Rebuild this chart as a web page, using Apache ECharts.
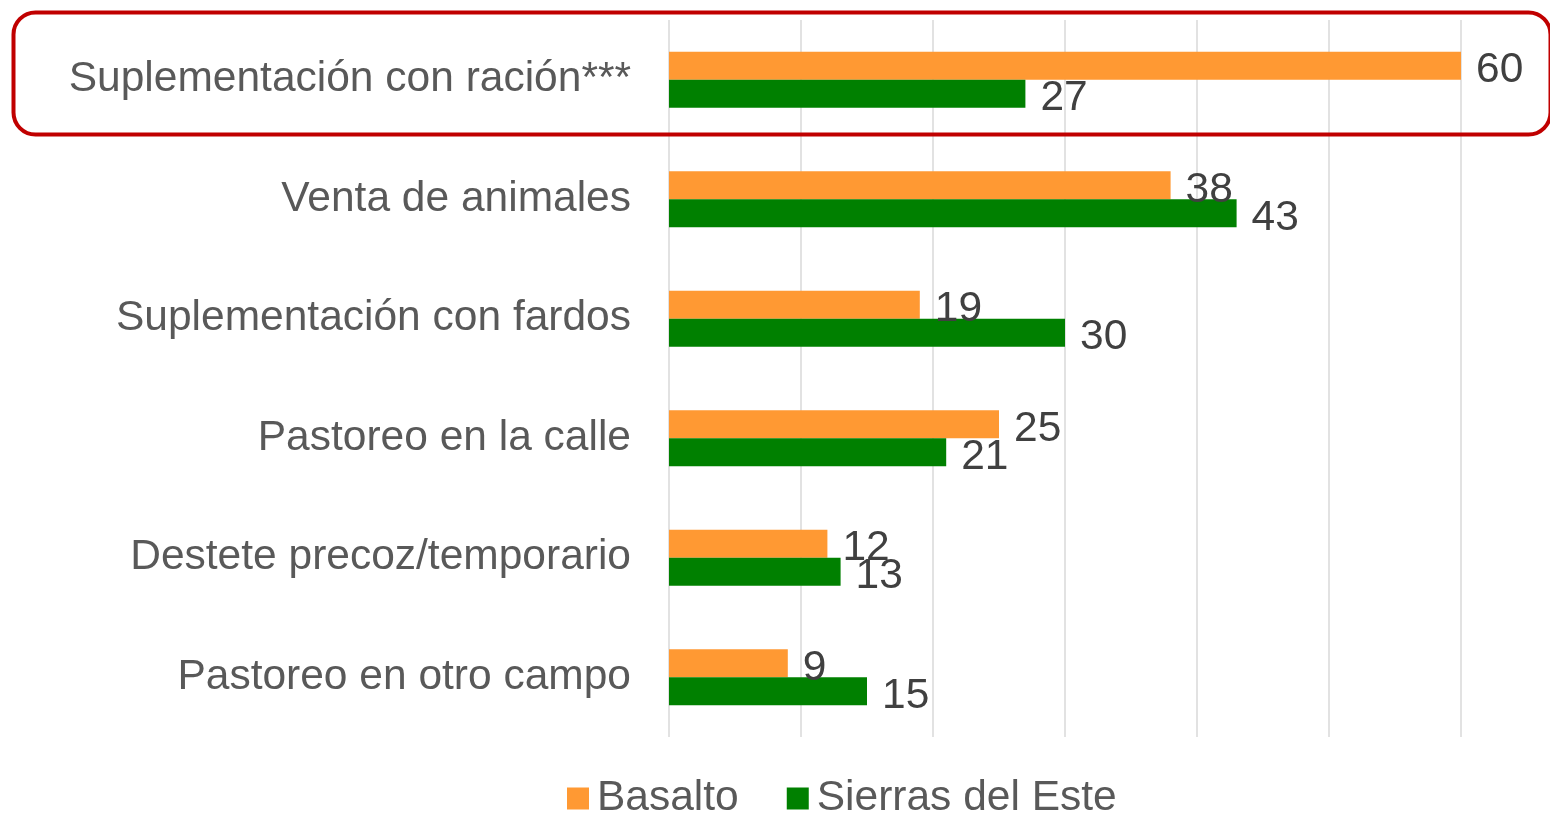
<!DOCTYPE html>
<html>
<head>
<meta charset="utf-8">
<script src="https://cdn.jsdelivr.net/npm/echarts@6/dist/echarts.min.js"></script>
<style>html,body{margin:0;padding:0;background:#fff}#c{width:1550px;height:813px}</style>
</head>
<body>
<div id="c"></div>
<script>
const categories = ["Suplementación con ración***", "Venta de animales", "Suplementación con fardos", "Pastoreo en la calle", "Destete precoz/temporario", "Pastoreo en otro campo"];
const basalto = [60, 38, 19, 25, 12, 9];
const sierras = [27, 43, 30, 21, 13, 15];
const seriesNames = ["Basalto", "Sierras del Este"];

const chart = echarts.init(document.getElementById('c'), null, {renderer: 'canvas'});
const FONT = 'Liberation Sans, Arial, sans-serif';
const labelCfg = {show: true, position: 'right', distance: 15, offset: [0, 5], color: '#404040', fontSize: 42.5, fontFamily: FONT};
chart.setOption({
  animation: false,
  backgroundColor: '#fff',
  grid: {left: 669, right: 89, top: 20, bottom: 76, containLabel: false},
  xAxis: {
    type: 'value', min: 0, max: 60, interval: 10,
    axisLabel: {show: false}, axisLine: {show: false}, axisTick: {show: false},
    splitLine: {show: true, lineStyle: {color: '#D9D9D9', width: 1.5}}
  },
  yAxis: {
    type: 'category', data: categories, inverse: true,
    axisLine: {show: false}, axisTick: {show: false},
    axisLabel: {color: '#595959', fontSize: 42.5, fontFamily: FONT, margin: 38, padding: [10, 0, 0, 0]}
  },
  legend: {
    data: seriesNames, left: 567, top: 777, padding: 0, itemWidth: 22, itemHeight: 22, itemGap: 48,
    icon: 'rect',
    textStyle: {color: '#595959', fontSize: 42.5, lineHeight: 42, fontFamily: FONT, padding: [0, 0, 0, 3]}
  },
  series: [
    {name: seriesNames[0], type: 'bar', data: basalto, barWidth: 28, barGap: '0%', itemStyle: {color: '#FF9933'}, label: labelCfg},
    {name: seriesNames[1], type: 'bar', data: sierras, barWidth: 28, barGap: '0%', itemStyle: {color: '#008000'}, label: labelCfg}
  ],
  graphic: [{
    type: 'rect', left: 11, top: 10, z: 100,
    shape: {width: 1537, height: 122, r: 22},
    style: {fill: 'none', stroke: '#C00000', lineWidth: 4}
  }]
});
</script>
</body>
</html>
